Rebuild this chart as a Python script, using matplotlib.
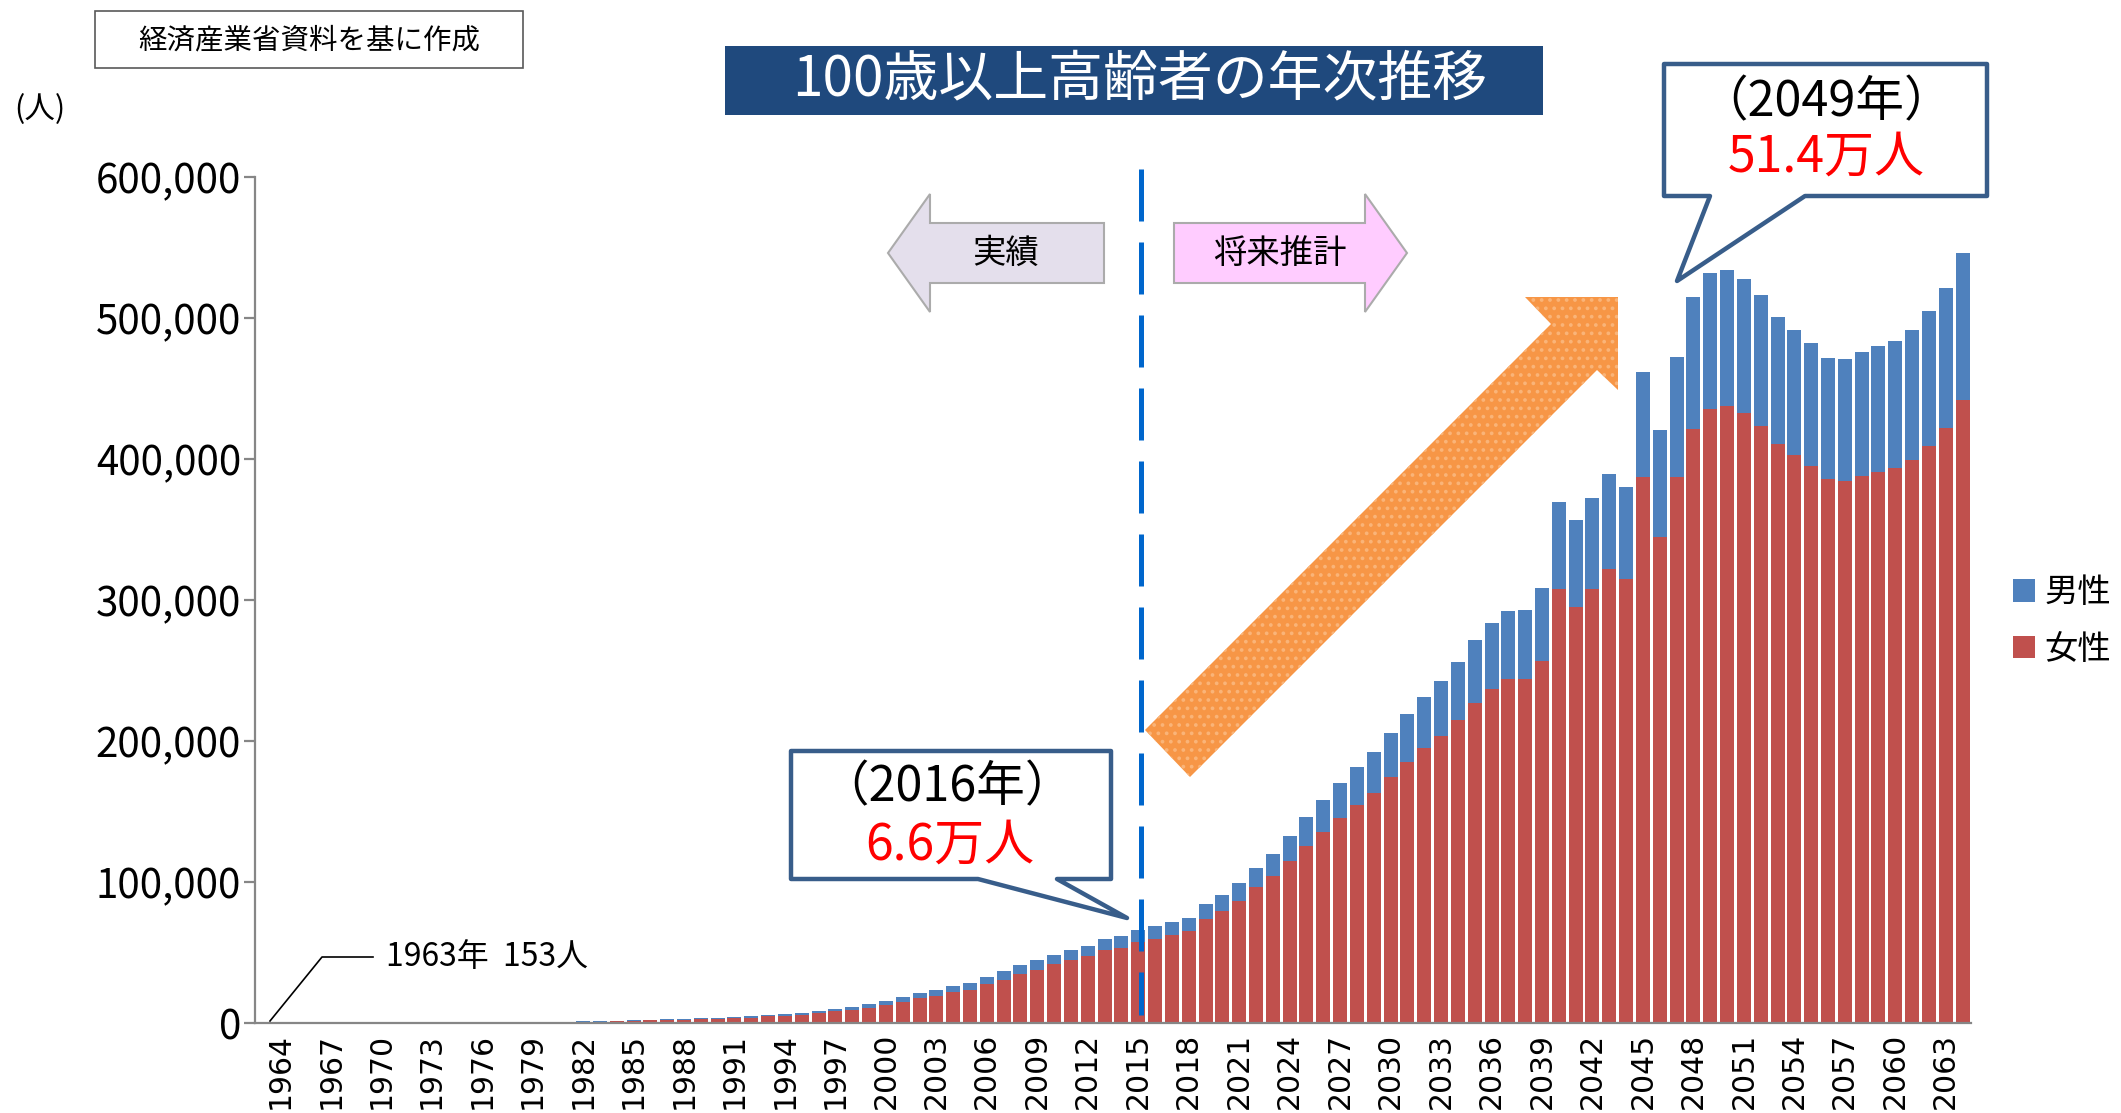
import matplotlib
matplotlib.use("Agg")
import matplotlib.pyplot as plt
from matplotlib.patches import Polygon
import numpy as np

plt.rcParams['font.family'] = ['Noto Sans CJK JP', 'DejaVu Sans']
plt.rcParams['hatch.linewidth'] = 1.5

# data
years = list(range(1963, 2065))
total = [153, 190, 200, 250, 260, 330, 250,
         700, 720, 760, 780, 800, 820, 850, 880, 920, 950,
         1000, 1050, 1350, 1570, 1740, 2100, 2400, 2600, 3100, 3300,
         3900, 4400, 4800, 5800, 6600, 7400, 8700, 10200, 11100, 13200,
         15400, 18200, 21100, 23200, 26000, 28200, 32400, 36700, 40900, 44500,
         48100, 51700, 54600, 59500, 61600, 66000, 68900, 71700, 74600, 84400,
         90900, 99400, 110000, 120000, 132800, 146200, 158400, 170400, 181800, 192300,
         205700, 219200, 231000, 242400, 255800, 271300, 283600, 292100, 292600, 308400,
         369300, 356400, 372200, 389600, 380300, 461600, 420400, 472300, 514900, 531900,
         534100, 527700, 516300, 500700, 491500, 482300, 471600, 470900, 475900, 480100,
         483700, 491500, 505000, 521400, 546100]
female = [120, 150, 160, 200, 200, 260, 200,
          300, 310, 330, 340, 350, 360, 370, 380, 400, 420,
          440, 460, 800, 1000, 1200, 1650, 1800, 2000, 2300, 2500,
          3000, 3400, 3900, 4700, 5300, 5900, 7000, 8200, 9100, 10800,
          12600, 15100, 17500, 19400, 21800, 23700, 27500, 30800, 34500, 37900,
          41800, 44600, 47500, 51700, 53200, 57500, 59650, 62500, 65300, 73700,
          79500, 86600, 96600, 104400, 115000, 125700, 135600, 145600, 154800, 163200,
          174600, 185300, 195300, 203500, 215000, 226800, 236800, 243800, 243800, 256600,
          307900, 295000, 307900, 322000, 314600, 387000, 345000, 387300, 421100, 435400,
          437500, 432800, 423300, 410500, 402700, 394900, 385900, 384500, 387800, 390700,
          393500, 399200, 409100, 421900, 441800]
male = [t - f for t, f in zip(total, female)]

tick_years = [y for y in years if (y - 1964) % 3 == 0 and y >= 1964]
y_ticks = [0, 100000, 200000, 300000, 400000, 500000, 600000]

W, H = 2121, 1113


def px(x, y):
    # pixel position (from top-left) -> figure fraction
    return (x / W, 1 - y / H)


def shape(pts, **kw):
    fig.patches.append(Polygon([px(*p) for p in pts], closed=True,
                               transform=fig.transFigure, **kw))


fig = plt.figure(figsize=(W / 100, H / 100), dpi=100)
ax = fig.add_axes([255 / W, (H - 1023) / H, 1716 / W, 846 / H])

x = np.arange(len(years))
b_female = ax.bar(x, female, width=0.83, color='#C0504D', label='女性')
b_male = ax.bar(x, male, width=0.83, bottom=female, color='#4F81BD', label='男性')

ax.set_xlim(-0.5, len(years) - 0.5)
ax.set_ylim(0, 600000)
ax.set_xticks([years.index(y) for y in tick_years])
ax.set_xticklabels([str(y) for y in tick_years], rotation=90, fontsize=21.5,
                   family='DejaVu Sans')
ax.tick_params(axis='x', length=0, pad=7)
ax.set_yticks(y_ticks)
ax.set_yticklabels([f"{v:,}" for v in y_ticks], fontsize=29)
ax.tick_params(axis='y', length=8, width=1.6, color='#868686', pad=2)
for s in ['top', 'right']:
    ax.spines[s].set_visible(False)
for s in ['left', 'bottom']:
    ax.spines[s].set_color('#868686')
    ax.spines[s].set_linewidth(1.6)

# boundary actual / projection
ax.plot([52.18, 52.18], [606000, 5600], color='#0066CC', lw=3.6, dashes=(10.4, 4.2),
        dash_capstyle='butt', clip_on=False, zorder=5)

# legend
fig.legend(handles=[b_male, b_female], labels=['男性', '女性'], loc='center left',
           bbox_to_anchor=(2013 / W, 1 - 621 / H), frameon=False, fontsize=24,
           handlelength=0.65, handleheight=0.65, handletextpad=0.3, labelspacing=0.65,
           borderpad=0, borderaxespad=0)

# y unit
fig.text(*px(14, 110), '(人)', fontsize=22, ha='left', va='center')

# source box
shape([(95, 11), (523, 11), (523, 68), (95, 68)], fc='white', ec='#595959', lw=1.2)
fig.text(*px(309, 40), '経済産業省資料を基に作成', fontsize=20.5, ha='center', va='center')

# title
shape([(725, 46), (1543, 46), (1543, 115), (725, 115)], fc='#1F497D', ec='none')
fig.text(*px(1140, 80), '100歳以上高齢者の年次推移', fontsize=39.5, color='white',
         ha='center', va='center')

# block arrows
left_arrow = [(888, 253), (930, 194), (930, 223), (1104, 223), (1104, 283), (930, 283), (930, 312)]
right_arrow = [(1174, 223), (1365, 223), (1365, 194), (1407, 253), (1365, 312), (1365, 283), (1174, 283)]
shape(left_arrow, fc='#E4DFEC', ec='#ABABAB', lw=1.5)
shape(right_arrow, fc='#FFCCFF', ec='#ABABAB', lw=1.5)
fig.text(*px(1006, 253), '実績', fontsize=24, ha='center', va='center')
fig.text(*px(1280, 253), '将来推計', fontsize=24, ha='center', va='center')

# orange growth arrow
growth = [(1145, 730), (1551, 324), (1525, 297), (1618, 297), (1618, 390), (1597, 370), (1190, 777)]
shape(growth, fc='#F79646', ec='#FAB478', lw=0, hatch='..')

# callouts
call1 = [(791, 751), (1111, 751), (1111, 879), (1057, 879), (1127, 918), (978, 879), (791, 879)]
call2 = [(1664, 64), (1987, 64), (1987, 196), (1805, 196), (1677, 281), (1710, 196), (1664, 196)]
for pts in (call1, call2):
    shape(pts, fc='white', ec='#385D8A', lw=3.2, joinstyle='round')
fig.text(*px(947, 788), '（2016年）', fontsize=35, ha='center', va='center')
fig.text(*px(950, 846), '6.6万人', fontsize=36, color='red', ha='center', va='center')
fig.text(*px(1826, 103), '（2049年）', fontsize=35, ha='center', va='center')
fig.text(*px(1826, 158), '51.4万人', fontsize=36, color='red', ha='center', va='center')

# 1963 note
fig.add_artist(plt.Line2D([270 / W, 322 / W, 373 / W], [1 - 1021 / H, 1 - 957 / H, 1 - 957 / H],
                          color='black', lw=1.2))
fig.text(*px(386, 957), '1963年  153人', fontsize=23, ha='left', va='center')

fig.savefig('out.png', dpi=100, facecolor='white')
